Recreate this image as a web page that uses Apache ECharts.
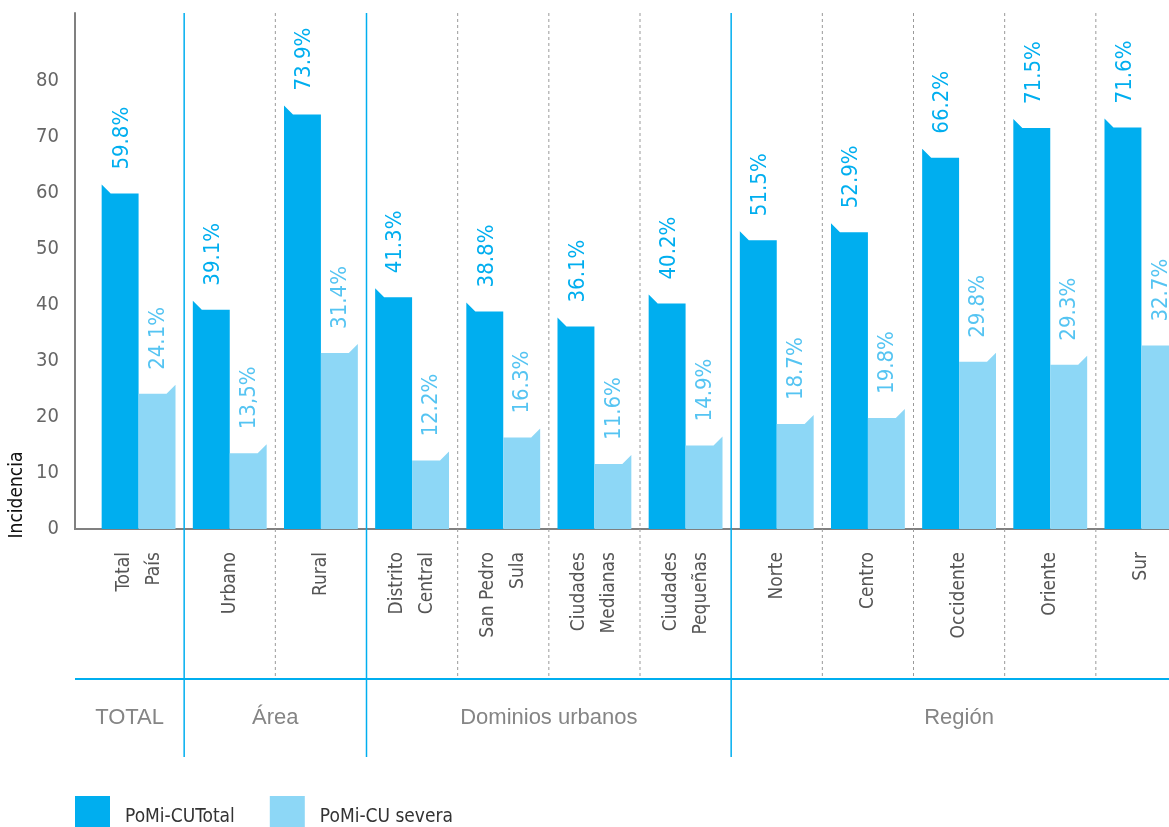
<!DOCTYPE html>
<html>
<head>
<meta charset="utf-8">
<script src="https://cdn.jsdelivr.net/npm/echarts@6/dist/echarts.min.js"></script>
<style>
  html, body { margin: 0; padding: 0; background: #fff; }
  #chart { width: 1169px; height: 827px; }
</style>
</head>
<body>
<div id="chart"></div>
<script>
  // datos
  const categories = ['Total\nPaís', 'Urbano', 'Rural', 'Distrito\nCentral', 'San Pedro\nSula',
    'Ciudades\nMedianas', 'Ciudades\nPequeñas', 'Norte', 'Centro', 'Occidente', 'Oriente', 'Sur'];
  const totalValues = [59.8, 39.1, 73.9, 41.3, 38.8, 36.1, 40.2, 51.5, 52.9, 66.2, 71.5, 71.6];
  const totalLabels = ['59.8%', '39.1%', '73.9%', '41.3%', '38.8%', '36.1%', '40.2%', '51.5%', '52.9%', '66.2%', '71.5%', '71.6%'];
  const severaValues = [24.1, 13.5, 31.4, 12.2, 16.3, 11.6, 14.9, 18.7, 19.8, 29.8, 29.3, 32.7];
  const severaLabels = ['24.1%', '13,5%', '31.4%', '12.2%', '16.3%', '11.6%', '14.9%', '18.7%', '19.8%', '29.8%', '29.3%', '32.7%'];
  // grupos: [inicio, fin, nombre]
  const groups = [[0, 0, 'TOTAL'], [1, 2, 'Área'], [3, 6, 'Dominios urbanos'], [7, 11, 'Región']];
  // separadores: [indice, solido?]
  const separators = [[1, 1], [2, 0], [3, 1], [4, 0], [5, 0], [6, 0], [7, 1], [8, 0], [9, 0], [10, 0], [11, 0]];
  const yTicks = [0, 10, 20, 30, 40, 50, 60, 70, 80];

  const yMax = 92;
  const darkBlue = '#00aeef';
  const lightBlue = '#8dd7f6';
  const lightLabel = '#55c4f2';
  const narrow = "'Liberation Sans Narrow', 'DejaVu Sans Condensed', Roboto, sans-serif";
  const gridLeft = 93;
  const yOffset = 18;

  const chart = echarts.init(document.getElementById('chart'));

  function barItem(side, labels, fillColor, labelColor) {
    return function (params, api) {
      const idx = api.value(0);
      const top = api.coord([idx, api.value(1)]);
      const base = api.coord([idx, 0]);
      const bw = api.size([1, 0])[0];
      const w = bw * 0.405;
      const f = 9;
      let pts;
      if (side === 'left') {
        const x0 = top[0] - w, x1 = top[0];
        pts = [[x0, base[1]], [x0, top[1] - f], [x0 + f, top[1]], [x1, top[1]], [x1, base[1]]];
      } else {
        const x0 = top[0], x1 = top[0] + w;
        pts = [[x0, base[1]], [x0, top[1]], [x1 - f, top[1]], [x1, top[1] - f], [x1, base[1]]];
      }
      const cx = side === 'left' ? top[0] - w / 2 + 2 : top[0] + w / 2 + 1;
      return {
        type: 'group',
        children: [
          { type: 'polygon', shape: { points: pts }, style: { fill: fillColor } },
          {
            type: 'text', x: cx, y: top[1] - 24, rotation: Math.PI / 2,
            style: {
              text: labels[params.dataIndex], fill: labelColor,
              font: '22px ' + narrow, align: 'left', verticalAlign: 'middle'
            }
          }
        ]
      };
    };
  }

  const option = {
    animation: false,
    backgroundColor: '#fff',
    grid: { left: gridLeft, top: 13, bottom: 298, width: 1094, outerBoundsMode: 'none' },
    legend: {
      left: 75, top: 796, padding: 0, itemWidth: 35, itemHeight: 42, itemGap: 35, icon: 'rect',
      data: ['PoMi-CUTotal', 'PoMi-CU severa'],
      textStyle: { fontFamily: narrow, fontSize: 19, color: '#333', padding: [0, 0, 0, 10] }
    },
    xAxis: {
      type: 'category',
      data: categories,
      axisLine: { lineStyle: { color: '#808080', width: 2 } },
      axisTick: { show: false },
      axisLabel: {
        interval: 0, rotate: 90, margin: 23, color: '#555',
        fontFamily: narrow, fontSize: 19, lineHeight: 30
      }
    },
    yAxis: {
      type: 'value', min: 0, max: yMax, interval: 10, offset: yOffset,
      axisLine: { show: true, lineStyle: { color: '#808080', width: 2 } },
      axisTick: { show: false },
      splitLine: { show: false },
      axisLabel: {
        margin: 16, color: '#666', fontFamily: narrow, fontSize: 20,
        formatter: v => (yTicks.indexOf(v) >= 0 ? String(v) : '')
      }
    },
    series: [
      {
        name: 'separators', type: 'custom', silent: true, clip: false, z: 1,
        data: separators,
        renderItem: function (params, api) {
          const i = api.value(0);
          const bw = api.size([1, 0])[0];
          const x = api.coord([i, 0])[0] - bw / 2;
          const yTop = api.coord([i, yMax])[1];
          const yBase = api.coord([i, 0])[1];
          const solid = api.value(1) === 1;
          return {
            type: 'line',
            shape: { x1: x, y1: yTop, x2: x, y2: yBase + (solid ? 228 : 150) },
            style: solid ? { stroke: darkBlue, lineWidth: 1.5 } : { stroke: '#9a9a9a', lineWidth: 1, lineDash: [3, 3] }
          };
        }
      },
      {
        name: 'groups', type: 'custom', silent: true, clip: false, z: 1,
        data: groups.map(g => [g[0], g[1]]),
        renderItem: function (params, api) {
          const s = api.value(0), e = api.value(1);
          const bw = api.size([1, 0])[0];
          const xs = s === 0 ? api.coord([0, 0])[0] - bw / 2 - yOffset : api.coord([s, 0])[0] - bw / 2;
          const xe = api.coord([e, 0])[0] + bw / 2;
          const yBase = api.coord([s, 0])[1];
          return {
            type: 'group',
            children: [
              { type: 'line', shape: { x1: xs, y1: yBase + 150, x2: xe, y2: yBase + 150 }, style: { stroke: darkBlue, lineWidth: 2 } },
              {
                type: 'text', x: (xs + xe) / 2, y: yBase + 189,
                style: { text: groups[params.dataIndex][2], fill: '#858585', font: '22px "Liberation Sans", Arial, sans-serif', align: 'center', verticalAlign: 'middle' }
              }
            ]
          };
        }
      },
      {
        name: 'PoMi-CUTotal', type: 'custom', z: 3,
        itemStyle: { color: darkBlue },
        data: totalValues.map((v, i) => [i, v]),
        renderItem: barItem('left', totalLabels, darkBlue, darkBlue)
      },
      {
        name: 'PoMi-CU severa', type: 'custom', z: 3,
        itemStyle: { color: lightBlue },
        data: severaValues.map((v, i) => [i, v]),
        renderItem: barItem('right', severaLabels, lightBlue, lightLabel)
      }
    ]
  };

  chart.setOption(option);

  // tramo del eje x entre el eje y desplazado y el inicio de la rejilla
  const origin = chart.convertToPixel({ xAxisIndex: 0, yAxisIndex: 0 }, [0, 0]);
  const bandW = chart.convertToPixel({ xAxisIndex: 0 }, 1) - chart.convertToPixel({ xAxisIndex: 0 }, 0);
  const gx = origin[0] - bandW / 2;
  chart.setOption({
    graphic: [
      { type: 'line', shape: { x1: gx - yOffset - 1, y1: origin[1], x2: gx, y2: origin[1] }, style: { stroke: '#808080', lineWidth: 2 }, z: 5 },
      {
        type: 'text', x: 17, y: origin[1] - 34, rotation: Math.PI / 2,
        style: { text: 'Incidencia', fill: '#111', font: '19px ' + narrow, align: 'center', verticalAlign: 'middle' }
      }
    ]
  });
</script>
</body>
</html>
